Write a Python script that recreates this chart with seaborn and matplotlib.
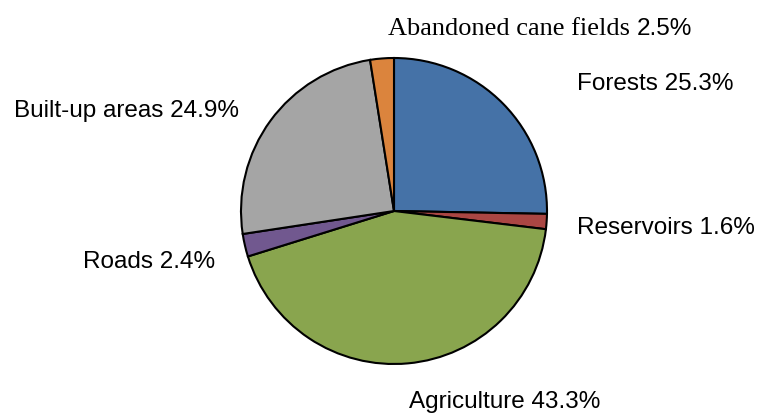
import matplotlib
matplotlib.use('Agg')
import matplotlib.pyplot as plt
import seaborn as sns

# land use shares (%), clockwise from 12 o'clock
categories = ['Forests', 'Reservoirs', 'Agriculture', 'Roads', 'Built-up areas', 'Abandoned cane fields']
shares = [25.3, 1.6, 43.3, 2.4, 24.9, 2.5]
colors = ['#4572A7', '#AA4643', '#89A54E', '#71588F', '#A5A5A5', '#DB843D']

sns.set_theme(style='white')
plt.rcParams['font.family'] = ['Liberation Sans', 'DejaVu Sans']

W, H = 763, 415
fig = plt.figure(figsize=(W / 100, H / 100), dpi=100)

# pie centre / radius in pixels
cx, cy, r = 394, 211, 153
ax = fig.add_axes([(cx - r) / W, (H - cy - r) / H, 2 * r / W, 2 * r / H])
ax.pie(shares, colors=colors, startangle=90, counterclock=False,
       wedgeprops=dict(edgecolor='black', linewidth=1.5))
ax.set_xlim(-1, 1)
ax.set_ylim(-1, 1)
ax.set_aspect('auto')
ax.axis('off')


def px(x, y):
    return x / W, 1 - y / H


fs = 17.5
lab = [f'{c} {v}%' for c, v in zip(categories, shares)]
kw = dict(fontsize=fs, va='baseline', color='black')
fig.text(*px(577, 90), lab[0], ha='left', **kw)
fig.text(*px(577, 234), lab[1], ha='left', **kw)
fig.text(*px(409, 408), lab[2], ha='left', **kw)
fig.text(*px(215, 268), lab[3], ha='right', **kw)
fig.text(*px(239, 117), lab[4], ha='right', **kw)
# mixed fonts in the last label
fig.text(*px(630, 35), categories[5], fontsize=19, ha='right', va='baseline',
         family='Liberation Serif', color='black')
fig.text(*px(637, 35), f'{shares[5]}%', fontsize=17.5, ha='left', va='baseline',
         color='black')

fig.savefig('out.png', dpi=100)
